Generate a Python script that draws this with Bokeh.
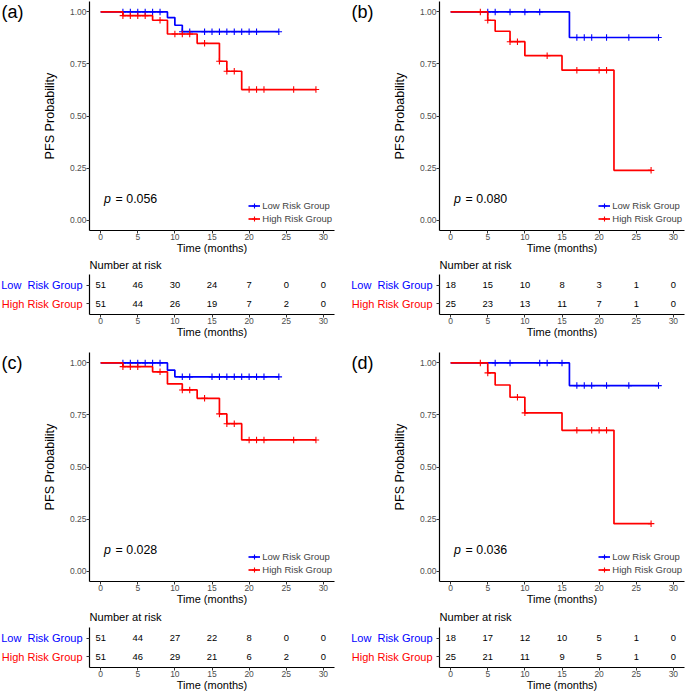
from bokeh.plotting import figure
from bokeh.models import Range1d, FixedTicker, Legend, LegendItem, NumeralTickFormatter, ColumnDataSource
from bokeh.layouts import column, row
from bokeh.embed import file_html
from bokeh.resources import INLINE
from bokeh.core.properties import value

FONT = "Liberation Sans"
BLUE = "#0000FF"
RED = "#FF0000"
GREY = "#4D4D4D"

# ---------------- data ----------------
time_ticks = [0, 5, 10, 15, 20, 25, 30]
prob_ticks = [0, 0.25, 0.5, 0.75, 1.0]
group_names = ["Low Risk Group", "High Risk Group"]
table_names = ["Low\u00a0 Risk Group", "High Risk Group"]
table_title = "Number at risk"
panel_tags = ["(a)", "(b)", "(c)", "(d)"]
p_values = ["0.056", "0.080", "0.028", "0.036"]

# Panel (a)
a_low_times = [9, 10, 11]
a_low_surv = [0.973, 0.936, 0.905]
a_low_cens = [3, 4, 5, 6, 7, 8, 11, 12, 14, 15, 16, 17, 18, 19, 20, 21, 24]
a_high_times = [3, 7, 9, 13, 16, 17, 19]
a_high_surv = [0.982, 0.960, 0.894, 0.849, 0.763, 0.715, 0.627]
a_high_cens = [3, 4, 5, 6, 8, 10, 11, 12, 14, 16, 17, 18, 20, 21, 22, 26, 29]
a_low_risk = [51, 46, 30, 24, 7, 0, 0]
a_high_risk = [51, 44, 26, 19, 7, 2, 0]

# Panel (b)
b_low_times = [16]
b_low_surv = [0.877]
b_low_cens = [5, 6, 8, 10, 12, 17, 18, 19, 21, 24, 28]
b_high_times = [5, 6, 8, 10, 15, 22]
b_high_surv = [0.960, 0.907, 0.857, 0.790, 0.720, 0.239]
b_high_cens = [4, 5, 8, 9, 13, 17, 20, 21, 27]
b_low_risk = [18, 15, 10, 8, 3, 1, 0]
b_high_risk = [25, 23, 13, 11, 7, 1, 0]

# Panel (c)
c_low_times = [9, 10]
c_low_surv = [0.965, 0.933]
c_low_cens = [3, 4, 5, 6, 7, 8, 11, 12, 15, 16, 17, 18, 19, 20, 21, 22, 24]
c_high_times = [3, 7, 9, 11, 13, 16, 17, 19]
c_high_surv = [0.982, 0.957, 0.899, 0.870, 0.830, 0.755, 0.708, 0.630]
c_high_cens = [3, 4, 5, 8, 11, 12, 14, 16, 17, 18, 20, 21, 22, 26, 29]
c_low_risk = [51, 44, 27, 22, 8, 0, 0]
c_high_risk = [51, 46, 29, 21, 6, 2, 0]

# Panel (d)
d_low_times = [16]
d_low_surv = [0.891]
d_low_cens = [6, 8, 12, 13, 15, 17, 18, 19, 21, 24, 28]
d_high_times = [5, 6, 8, 10, 15, 22]
d_high_surv = [0.952, 0.894, 0.835, 0.760, 0.676, 0.228]
d_high_cens = [4, 5, 9, 10, 17, 19, 20, 21, 27]
d_low_risk = [18, 17, 12, 10, 5, 1, 0]
d_high_risk = [25, 21, 11, 9, 5, 1, 0]

X0, X1 = -1.5, 31.5
AXIS_X = 89          # frame left within a column
FRAME_W = 245
TAG_W = 30           # strip holding the panel tag
ROWLAB_W = 83        # strip holding the risk-table row labels
TITLE_H = 16         # strip holding "Number at risk"


def blank(p):
    p.outline_line_color = None
    p.xgrid.visible = False
    p.ygrid.visible = False
    p.axis.visible = False
    p.background_fill_color = None


def style_axes(p):
    p.outline_line_color = None
    p.xgrid.visible = False
    p.ygrid.visible = False
    for ax in (p.xaxis[0], p.yaxis[0]):
        ax.axis_line_color = "black"
        ax.axis_line_width = 1.2
        ax.major_tick_line_color = "#333333"
        ax.major_tick_line_width = 1
        ax.major_tick_in = 0
        ax.major_tick_out = 3
        ax.minor_tick_line_color = None
        ax.major_label_standoff = 0
        ax.major_label_text_font = FONT
        ax.major_label_text_font_size = "8.5px"
        ax.major_label_text_color = GREY
        ax.axis_label_text_font = FONT
        ax.axis_label_text_font_style = "normal"
        ax.axis_label_text_color = "black"
    p.xaxis.ticker = FixedTicker(ticks=time_ticks)
    p.xaxis.axis_label = "Time (months)"
    p.xaxis.axis_label_text_font_size = "11px"
    p.xaxis.axis_label_standoff = -1


def step_xy(times, surv, cens):
    end = max(cens + times)
    xs = [0] + list(times) + [end]
    ys = [1.0] + list(surv) + [surv[-1]]
    cy = []
    for c in cens:
        y = 1.0
        for t, s in zip(times, surv):
            if t <= c:
                y = s
        cy.append(y)
    return xs, ys, cy


def km_panel(tag, pval, low, high, col_w, fig_h, top, bottom):
    right = col_w - AXIS_X - FRAME_W
    t = figure(width=TAG_W, height=fig_h, x_range=Range1d(0, TAG_W), y_range=Range1d(-0.05, 1.05),
               output_backend="svg", toolbar_location=None,
               min_border_left=0, min_border_right=0, min_border_top=top, min_border_bottom=bottom)
    blank(t)
    t.text(x=[1], y=[1.0], text=[tag], text_font=value(FONT), text_font_size="18px",
           text_align="left", text_baseline="middle", text_color="black")

    p = figure(width=col_w - TAG_W, height=fig_h, x_range=Range1d(X0, X1), y_range=Range1d(-0.05, 1.05),
               output_backend="svg", toolbar_location=None,
               min_border_left=AXIS_X - TAG_W, min_border_right=right,
               min_border_top=top, min_border_bottom=bottom)
    style_axes(p)
    p.yaxis.ticker = FixedTicker(ticks=prob_ticks)
    p.yaxis.formatter = NumeralTickFormatter(format="0.00")
    p.yaxis.axis_label = "PFS Probability"
    p.yaxis.axis_label_text_font_size = "12.6px"
    p.yaxis.axis_label_standoff = 10

    items = []
    for (times, surv, cens), color, name in zip((low, high), (BLUE, RED), group_names):
        xs, ys, cy = step_xy(times, surv, cens)
        ln = p.step(xs, ys, mode="after", line_color=color, line_width=1.7)
        sc = p.scatter(cens, cy, marker="cross", size=6.5, line_color=color, line_width=1.1)
        items.append(LegendItem(label=name, renderers=[ln, sc]))

    leg = Legend(items=items, location=(159.3, 4.6), padding=0, margin=0, spacing=0,
                 glyph_width=12, glyph_height=13, label_height=13, label_standoff=2,
                 label_text_font=FONT, label_text_font_size="9.5px",
                 border_line_color=None, background_fill_alpha=0)
    p.add_layout(leg)

    p.text(x=[0.45], y=[0.1], text=["p"], text_font=value(FONT), text_font_style="italic",
           text_font_size="12.4px", text_align="left", text_baseline="middle", text_color="black")
    p.text(x=[0.45], y=[0.1], x_offset=11.6, text=["= " + pval], text_font=value(FONT),
           text_font_size="12.4px", text_align="left", text_baseline="middle", text_color="black")
    return row(t, p)


def table_panel(low_risk, high_risk, col_w, fig_h, top, bottom, title_y):
    right = col_w - AXIS_X - FRAME_W
    ttl = figure(width=col_w, height=TITLE_H, x_range=Range1d(0, col_w), y_range=Range1d(0, TITLE_H),
                 output_backend="svg", toolbar_location=None,
                 min_border_left=0, min_border_right=0, min_border_top=0, min_border_bottom=0)
    blank(ttl)
    ttl.text(x=[AXIS_X], y=[title_y], text=[table_title], text_font=value(FONT), text_font_size="11.1px",
             text_align="left", text_baseline="middle", text_color="black")

    h = fig_h - TITLE_H
    tp = top - TITLE_H
    lab = figure(width=ROWLAB_W, height=h, x_range=Range1d(0, ROWLAB_W), y_range=Range1d(0.4, 2.6),
                 output_backend="svg", toolbar_location=None,
                 min_border_left=0, min_border_right=0, min_border_top=tp, min_border_bottom=bottom)
    blank(lab)
    lab.text(x=[82, 82], y=[2, 1], text=table_names, text_color=[BLUE, RED], text_font=value(FONT),
             text_font_size="11px", text_align="right", text_baseline="middle")

    p = figure(width=col_w - ROWLAB_W, height=h, x_range=Range1d(X0, X1), y_range=Range1d(0.4, 2.6),
               output_backend="svg", toolbar_location=None,
               min_border_left=AXIS_X - ROWLAB_W, min_border_right=right,
               min_border_top=tp, min_border_bottom=bottom)
    style_axes(p)
    p.yaxis.ticker = FixedTicker(ticks=[1, 2])
    p.yaxis.major_label_overrides = {1: "", 2: ""}
    for risk, yrow in ((low_risk, 2), (high_risk, 1)):
        src = ColumnDataSource(dict(x=time_ticks, y=[yrow] * len(time_ticks), t=[str(v) for v in risk]))
        p.text(x="x", y="y", text="t", source=src, text_font=value(FONT), text_font_size="9.4px",
               text_align="center", text_baseline="middle", text_color="black")
    return column(ttl, row(lab, p))


LW, RW = 350, 335
H1, H2, H3, H4 = 256, 84, 268, 85

ka = km_panel(panel_tags[0], p_values[0], (a_low_times, a_low_surv, a_low_cens),
              (a_high_times, a_high_surv, a_high_cens), LW, H1, 1, 26)
kb = km_panel(panel_tags[1], p_values[1], (b_low_times, b_low_surv, b_low_cens),
              (b_high_times, b_high_surv, b_high_cens), RW, H1, 1, 26)
ta = table_panel(a_low_risk, a_high_risk, LW, H2, 18, 26, 8)
tb = table_panel(b_low_risk, b_high_risk, RW, H2, 18, 26, 8)
kc = km_panel(panel_tags[2], p_values[2], (c_low_times, c_low_surv, c_low_cens),
              (c_high_times, c_high_surv, c_high_cens), LW, H3, 12, 27)
kd = km_panel(panel_tags[3], p_values[3], (d_low_times, d_low_surv, d_low_cens),
              (d_high_times, d_high_surv, d_high_cens), RW, H3, 12, 27)
tc = table_panel(c_low_risk, c_high_risk, LW, H4, 19, 26, 7.3)
td = table_panel(d_low_risk, d_high_risk, RW, H4, 19, 26, 7.3)

layout = column(row(ka, kb), row(ta, tb), row(kc, kd), row(tc, td))

open("out.html", "w").write(file_html(layout, INLINE))
